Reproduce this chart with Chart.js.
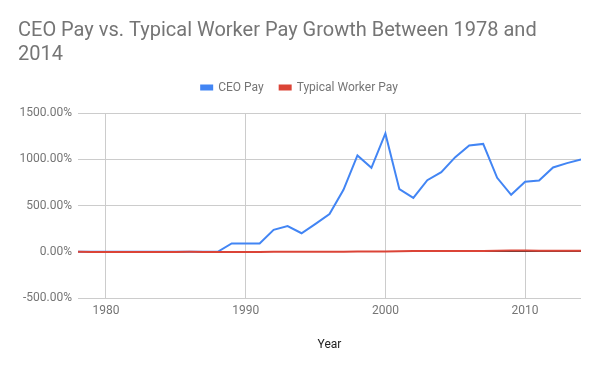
<!DOCTYPE html>
<html>
<head>
<meta charset="utf-8">
<script src="https://cdn.jsdelivr.net/npm/chart.js@4"></script>
<style>
  html, body { margin: 0; padding: 0; background: #fff; }
  #wrap { width: 600px; height: 371px; position: relative; }
</style>
</head>
<body>
<div id="wrap"><canvas id="grafico"></canvas></div>
<script>
// valores (crescimento % desde 1978)
var anos = [1978, 1979, 1980, 1981, 1982, 1983, 1984, 1985, 1986, 1987, 1988,
  1989, 1990, 1991, 1992, 1993, 1994, 1995, 1996, 1997, 1998, 1999,
  2000, 2001, 2002, 2003, 2004, 2005, 2006, 2007, 2008, 2009, 2010,
  2011, 2012, 2013, 2014]
var pagaCeo = [0, 0, 0, 0, 0, 0, 0, 0, 0, 0, 0,
  90, 90, 90, 237, 277, 200, 302, 407, 670, 1041, 907,
  1279, 677, 583, 774, 861, 1023, 1149, 1166, 799, 616, 756,
  771, 911, 958, 997]
var pagaTrabalhador = [0, -1.5, -3, -3.5, -3, -2.5, -2, -2, -1, -1.5, -1.5,
  -1.5, -2, -2, -1, -1, -0.5, -1, -1, 0, 2, 3,
  3.5, 5, 7, 9, 9, 8.5, 8.5, 9, 9.5, 13, 13,
  11.5, 10.5, 10.5, 10.9]
var ticksX = [1980, 1990, 2000, 2010]

function juntar(valores) {
  var pontos = []
  for (var i = 0; i < anos.length; i++) {
    pontos.push({ x: anos[i], y: valores[i] })
  }
  return pontos
}

// sobe a legenda um pouco para deixar espaco antes do grafico
var subirLegenda = {
  id: 'subirLegenda',
  afterLayout: function (chart) {
    if (chart.legend) {
      chart.legend.top -= 9.5
      chart.legend.bottom -= 9.5
    }
  }
}

Chart.defaults.font.family = "Roboto, 'Noto Sans', sans-serif"

var ctx = document.getElementById('grafico')
var myChart = new Chart(ctx, {
  type: 'line',
  data: {
    datasets: [{
      label: 'CEO Pay',
      data: juntar(pagaCeo),
      borderColor: '#4285F4',
      backgroundColor: '#4285F4',
      borderWidth: 2,
      pointRadius: 0,
      tension: 0,
      order: 1
    }, {
      label: 'Typical Worker Pay',
      data: juntar(pagaTrabalhador),
      borderColor: '#DB4437',
      backgroundColor: '#DB4437',
      borderWidth: 2,
      pointRadius: 0,
      tension: 0,
      order: 0
    }]
  },
  plugins: [subirLegenda],
  options: {
    responsive: true,
    maintainAspectRatio: false,
    animation: false,
    layout: { padding: { left: 18, right: 19, top: 0, bottom: 19 } },
    plugins: {
      title: {
        display: true,
        text: ['CEO Pay vs. Typical Worker Pay Growth Between 1978 and', '2014'],
        align: 'start',
        color: '#757575',
        font: { size: 20, weight: 'normal', lineHeight: 1.17 },
        padding: { top: 19.6, bottom: 8.6 }
      },
      legend: {
        display: true,
        labels: {
          boxWidth: 11,
          boxHeight: 4,
          color: '#757575',
          font: { size: 12 },
          padding: 16,
          sort: function (a, b) { return a.datasetIndex - b.datasetIndex }
        }
      },
      tooltip: { enabled: false }
    },
    scales: {
      x: {
        type: 'linear',
        min: 1978,
        max: 2014,
        afterBuildTicks: function (eixo) {
          eixo.ticks = ticksX.map(function (v) { return { value: v } })
        },
        afterFit: function (eixo) { eixo.height = 54 },
        ticks: {
          color: '#757575',
          font: { size: 12 },
          padding: 6,
          maxRotation: 0,
          callback: function (v) { return String(v) }
        },
        grid: { color: '#cccccc', drawTicks: false },
        border: { display: false },
        title: {
          display: true,
          text: 'Year',
          color: '#222222',
          font: { size: 12 },
          padding: { top: 0, bottom: 0 }
        }
      },
      y: {
        min: -500,
        max: 1500,
        ticks: {
          stepSize: 500,
          color: '#757575',
          font: { size: 12 },
          padding: 6,
          callback: function (v) { return v.toFixed(2) + '%' }
        },
        grid: {
          drawTicks: false,
          color: function (c) { return c.tick && c.tick.value === 0 ? '#333333' : '#cccccc' }
        },
        border: { display: false },
        afterFit: function (eixo) { eixo.width = 60 }
      }
    }
  }
})
</script>
</body>
</html>
